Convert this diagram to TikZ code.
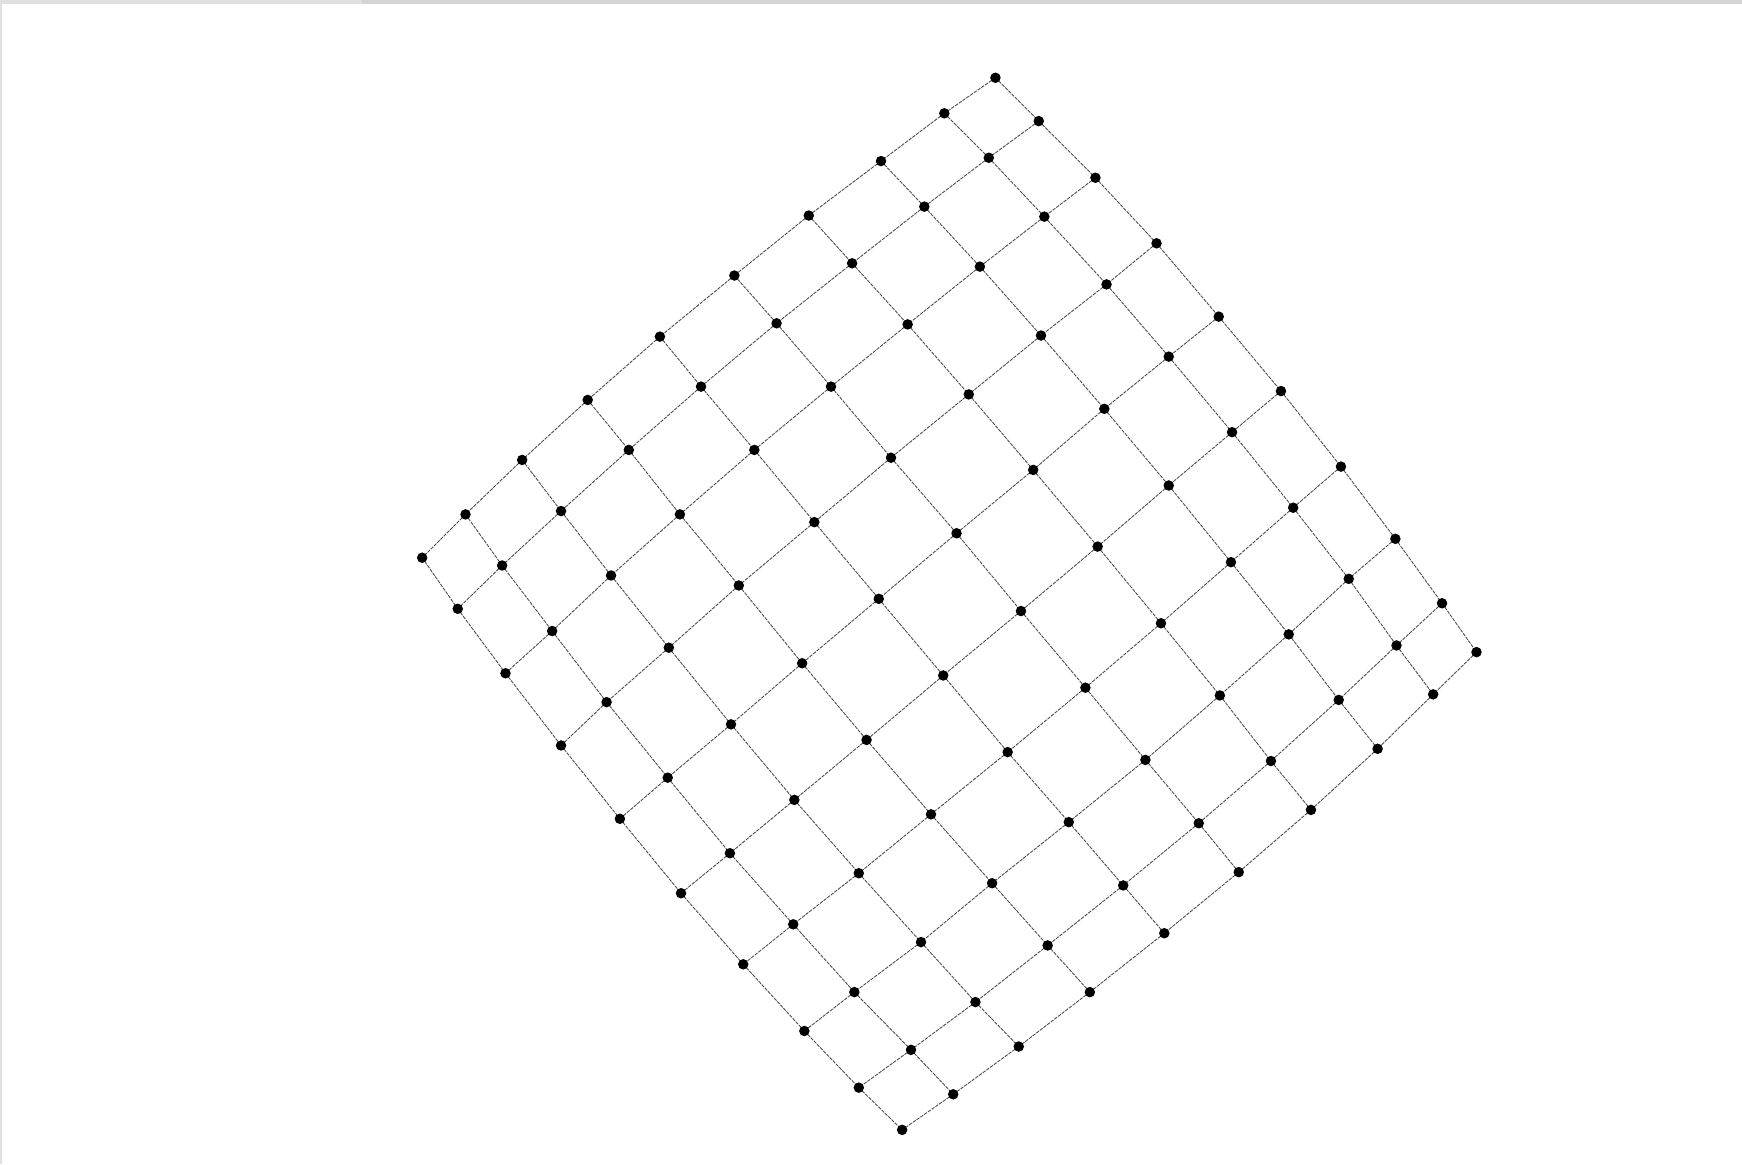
\documentclass[tikz,border=0pt]{standalone}
\begin{document}
\begin{tikzpicture}[x={(0.0222222cm,0)},y={(0,-0.0222222cm)},
  dot/.style={circle,fill=black,inner sep=0pt,minimum size=0.21cm},
  edge/.style={line width=0.5pt,black!70,dash pattern=on 2pt off 0.6pt}]
\useasboundingbox (0,0) rectangle (1568,1048);
\fill[white] (0,0) rectangle (1568,1048);
\fill[black!12] (0,0) rectangle (326,3.6);
\fill[black!17] (326,0) rectangle (1568,3.6);
\fill[black!12] (0,3.6) rectangle (1.8,1048);
\foreach \row [count=\r from 0] in {
 {896/70,850/102,793/145,728/194,661/248,594/303,529/360,470/414,419/463,380/502},
 {935/109,890/142,832/186,767/237,699/291,631/348,566/405,505/460,452/509,412/548},
 {986/160,940/195,882/240,817/292,748/348,679/405,612/463,550/518,497/568,455/606},
 {1041/219,996/256,937/302,872/355,802/412,733/470,665/527,602/583,546/632,505/671},
 {1097/285,1052/321,994/368,930/423,861/480,791/539,722/597,658/652,601/700,558/737},
 {1153/352,1109/389,1052/437,988/492,919/550,849/608,780/666,715/720,657/768,613/804},
 {1207/420,1164/457,1108/506,1045/561,977/619,907/677,838/733,773/786,714/832,669/868},
 {1256/485,1214/521,1160/571,1098/626,1031/684,962/740,893/795,829/848,769/893,724/928},
 {1298/543,1257/581,1205/630,1144/685,1079/741,1011/797,943/851,878/902,820/945,773/979},
 {1329/587,1290/625,1240/674,1180/729,1115/785,1048/840,981/893,917/942,858/985,812/1017}}{
  \foreach \px/\py [count=\c from 0] in \row {
    \coordinate (p-\r-\c) at (\px,\py);
  }
}
\foreach \r in {0,...,9}{
  \foreach \c [evaluate=\c as \d using int(\c+1)] in {0,...,8}{
    \draw[edge] (p-\r-\c) -- (p-\r-\d);
    \draw[edge] (p-\c-\r) -- (p-\d-\r);
  }
}
\foreach \r in {0,...,9}{
  \foreach \c in {0,...,9}{
    \node[dot] (n-\r-\c) at (p-\r-\c) {};
  }
}
\end{tikzpicture}
\end{document}
